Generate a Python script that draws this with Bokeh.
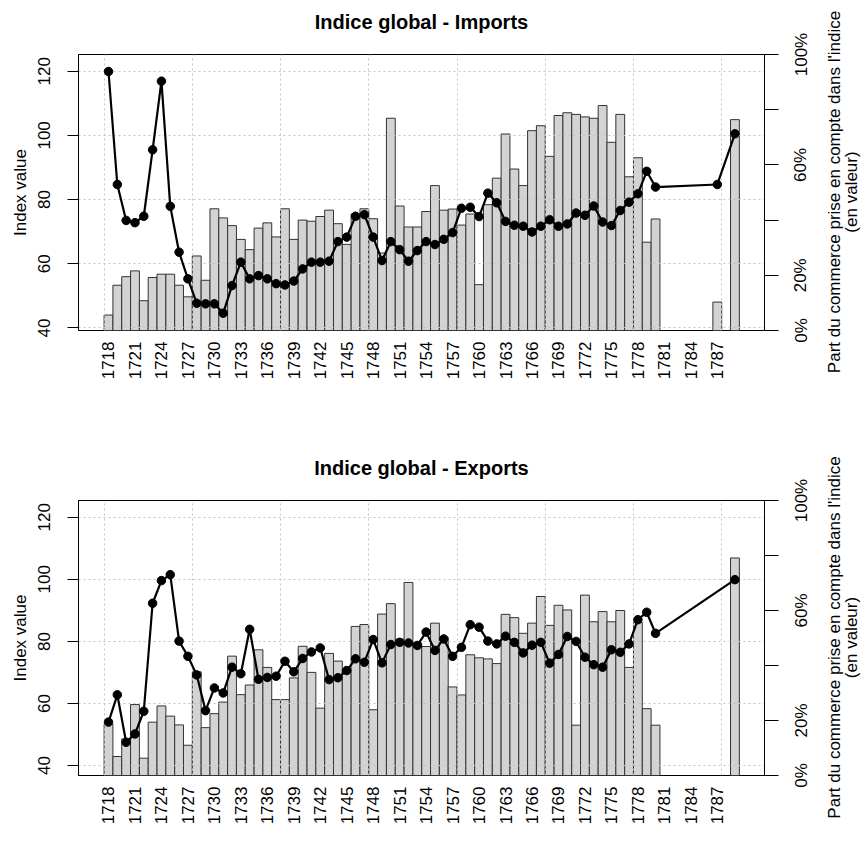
import math
from bokeh.plotting import figure
from bokeh.models import Range1d, LinearAxis, FixedTicker, Div
from bokeh.layouts import column, row
from bokeh.embed import file_html
from bokeh.resources import INLINE

FONT = "Liberation Sans"

years = list(range(1718, 1790))

imports_share = [5.6, 16.4, 19.5, 21.6, 10.8, 19.2, 20.4, 20.4, 16.4, 12.2,
                 27.0, 18.2, 44.1, 40.8, 38.0, 33.0, 29.3, 37.1, 39.0, 33.9,
                 44.1, 33.0, 40.0, 39.6, 41.3, 43.6, 38.7, 31.2, 42.2, 44.1,
                 40.5, 28.1, 76.9, 45.1, 37.5, 37.5, 43.1, 52.5, 43.6, 44.0,
                 38.2, 42.2, 16.6, 45.6, 55.2, 71.2, 58.5, 52.5, 72.4, 74.2,
                 63.1, 77.9, 78.9, 78.3, 77.4, 76.9, 81.5, 68.2, 78.3, 55.7,
                 62.6, 32.0, 40.4, None, None, None, None, None, None, 10.3,
                 None, 76.4]

imports_index = [119.9, 84.7, 73.5, 72.8, 74.8, 95.5, 116.9, 77.9, 63.6, 55.3,
                 47.7, 47.5, 47.5, 44.6, 53.2, 60.5, 55.3, 56.3, 55.3, 53.8,
                 53.4, 54.6, 58.4, 60.5, 60.5, 60.8, 66.9, 68.3, 74.8, 75.3,
                 68.3, 61.0, 66.9, 64.4, 60.8, 64.1, 66.9, 66.0, 67.6, 69.7,
                 77.3, 77.6, 74.7, 82.0, 79.0, 73.2, 72.0, 71.7, 69.9, 71.7,
                 73.7, 71.7, 72.4, 75.8, 75.1, 78.0, 73.0, 71.9, 76.6, 79.2,
                 81.8, 88.8, 83.9, None, None, None, None, None, None, 84.7,
                 None, 100.5]

exports_share = [18.6, 6.9, 13.3, 25.8, 6.3, 19.4, 25.3, 21.6, 18.4, 11.0,
                 37.7, 17.4, 22.5, 26.7, 43.4, 29.4, 32.9, 45.7, 39.3, 27.6,
                 27.6, 35.5, 47.0, 37.5, 24.5, 44.4, 41.6, 38.5, 54.2, 54.9,
                 23.9, 58.7, 62.5, 49.6, 70.2, 48.2, 46.9, 55.4, 50.2, 32.2,
                 29.3, 43.9, 42.8, 42.4, 40.7, 58.6, 57.4, 51.7, 55.4, 65.1,
                 54.6, 61.9, 60.2, 18.3, 65.6, 55.9, 59.6, 55.9, 60.0, 39.3,
                 55.7, 24.3, 18.3, None, None, None, None, None, None, None,
                 None, 79.1]

exports_index = [54.0, 62.8, 47.5, 50.2, 57.5, 92.3, 99.6, 101.5, 80.1, 75.2,
                 69.2, 57.7, 65.0, 63.4, 71.7, 69.6, 83.9, 67.8, 68.4, 68.8,
                 73.6, 70.2, 74.5, 76.6, 77.9, 67.7, 68.3, 70.6, 74.4, 73.3,
                 80.6, 73.1, 79.0, 79.7, 79.5, 78.7, 83.0, 77.1, 80.8, 75.2,
                 78.1, 85.4, 84.6, 80.1, 79.2, 81.7, 79.7, 76.3, 78.8, 79.7,
                 73.0, 75.8, 81.6, 80.0, 74.9, 72.5, 71.7, 77.3, 76.5, 79.2,
                 87.0, 89.4, 82.6, None, None, None, None, None, None, None,
                 None, 99.9]

x_ticks = list(range(1718, 1789, 3))
x_tick_labels = [str(y) for y in x_ticks]
y_ticks = [40, 60, 80, 100, 120]
pct_ticks = [0, 20, 40, 60, 80, 100]
pct_labels = ["0%", "20%", "", "60%", "", "100%"]
grid_x = [1717.5 + 10 * k for k in range(8)]

right_texts = ["Part du commerce prise en compte dans l'indice", "(en valeur)"]

MAIN_W = 782     # frame right edge at 764 + 18 px for the right ticks
TICK_W = 40      # small figure holding the right-axis tick labels
SIDE_W = 44      # axis title column


def no_ticks(ax):
    ax.major_tick_out = 0
    ax.major_tick_in = 0
    ax.minor_tick_out = 0
    ax.minor_tick_in = 0


def make_chart(title, share, index, yrange, height, top, bottom):
    p = figure(width=MAIN_W, height=height, output_backend="svg", toolbar_location=None,
               title=None, x_range=Range1d(1714.6, 1792.35), y_range=Range1d(*yrange),
               min_border_left=78, min_border_right=MAIN_W - 764, min_border_top=top,
               min_border_bottom=bottom)
    p.background_fill_color = "white"
    p.border_fill_color = "white"
    p.outline_line_color = "black"
    p.outline_line_width = 1
    p.extra_y_ranges = {"pct": Range1d(0, 100)}
    p.extra_x_ranges = {"ttl": Range1d(0, 2)}

    # bars
    bx = [y for y, s in zip(years, share) if s is not None]
    bt = [s for s in share if s is not None]
    p.vbar(x=bx, top=bt, bottom=0, width=1, y_range_name="pct",
           fill_color="#d3d3d3", line_color="#333333", line_width=1, level="image")

    # index line
    lx = [y for y, v in zip(years, index) if v is not None]
    ly = [v for v in index if v is not None]
    p.line(lx, ly, line_color="black", line_width=2.2)
    p.scatter(lx, ly, size=8.5, fill_color="black", line_color="black")

    # grid
    p.xgrid.ticker = FixedTicker(ticks=grid_x)
    p.ygrid.ticker = FixedTicker(ticks=y_ticks)
    for g in (p.xgrid, p.ygrid):
        g.grid_line_color = "#c4c4c4"
        g.grid_line_dash = "2 3"
        g.grid_line_width = 1

    # left axis
    ya = p.yaxis[0]
    ya.ticker = FixedTicker(ticks=y_ticks)
    ya.major_label_orientation = "vertical"
    no_ticks(ya)
    ya.major_tick_out = 11
    ya.major_label_standoff = 17
    ya.major_label_text_font = FONT
    ya.major_label_text_font_size = "17px"
    ya.major_label_text_color = "black"
    ya.axis_line_color = "black"
    ya.major_tick_line_color = "black"
    ya.axis_label = "Index value"
    ya.axis_label_text_font = FONT
    ya.axis_label_text_font_size = "17px"
    ya.axis_label_text_font_style = "normal"
    ya.axis_label_text_color = "black"
    ya.axis_label_standoff = 6

    # bottom axis
    xa = p.xaxis[0]
    xa.ticker = FixedTicker(ticks=x_ticks)
    xa.major_label_overrides = dict(zip(x_ticks, x_tick_labels))
    xa.major_label_orientation = math.pi / 2
    no_ticks(xa)
    xa.axis_line_color = None
    xa.major_label_standoff = 11
    xa.major_label_text_font = FONT
    xa.major_label_text_font_size = "17px"
    xa.major_label_text_color = "black"

    # title (as a centred label above the frame)
    ta = LinearAxis(x_range_name="ttl", ticker=FixedTicker(ticks=[1]),
                    major_label_overrides={1: title})
    no_ticks(ta)
    ta.axis_line_color = None
    ta.major_label_standoff = 22
    ta.major_label_text_font = FONT
    ta.major_label_text_font_size = "20px"
    ta.major_label_text_font_style = "bold"
    ta.major_label_text_color = "black"
    p.add_layout(ta, "above")

    # right axis: line and ticks (labels are drawn in the next figure)
    ra = LinearAxis(y_range_name="pct", ticker=FixedTicker(ticks=pct_ticks),
                    major_label_overrides={t: "" for t in pct_ticks})
    no_ticks(ra)
    ra.major_tick_out = 14
    ra.major_label_standoff = 0
    ra.major_label_text_font_size = "0px"
    ra.axis_line_color = "black"
    p.add_layout(ra, "right")
    return p


def tick_panel(height, top, bottom):
    s = figure(width=TICK_W, height=height, output_backend="svg", toolbar_location=None,
               title=None, x_range=Range1d(0, 1), y_range=Range1d(0, 100),
               x_axis_location=None, y_axis_location="left",
               min_border_left=TICK_W - 4, min_border_right=0, min_border_top=top,
               min_border_bottom=bottom)
    s.outline_line_color = None
    s.background_fill_color = "white"
    s.border_fill_color = "white"
    for g in s.grid:
        g.visible = False
    ax = s.yaxis[0]
    ax.ticker = FixedTicker(ticks=pct_ticks)
    ax.major_label_overrides = dict(zip(pct_ticks, pct_labels))
    ax.major_label_orientation = "vertical"
    no_ticks(ax)
    ax.axis_line_color = None
    ax.major_label_standoff = 8
    ax.major_label_text_font = FONT
    ax.major_label_text_font_size = "17px"
    ax.major_label_text_color = "black"
    return s


def side_panel(height, cy):
    parts = []
    for x, t in zip((12, 29), right_texts):
        parts.append(
            f'<text x="{x}" y="{cy}" transform="rotate(-90 {x} {cy})" '
            f'text-anchor="middle" dominant-baseline="central" '
            f'font-family="Liberation Sans" font-size="17px" fill="black">{t}</text>')
    svg = (f'<svg xmlns="http://www.w3.org/2000/svg" width="{SIDE_W}" height="{height}" '
           f'style="display:block">' + "".join(parts) + '</svg>')
    return Div(text=svg, width=SIDE_W, height=height, margin=(0, 0, 0, 0))


p1 = make_chart("Indice global - Imports", imports_share, imports_index,
                (39.2, 125.2), 430, 54, 100)
p2 = make_chart("Indice global - Exports", exports_share, exports_index,
                (36.8, 125.4), 409, 70, 64)
t1 = tick_panel(430, 54, 100)
t2 = tick_panel(409, 70, 64)
s1 = side_panel(430, 192)
s2 = side_panel(409, 207.5)

layout = column(row(p1, t1, s1, spacing=0), row(p2, t2, s2, spacing=0), spacing=0)
open("out.html", "w").write(file_html(layout, INLINE))
